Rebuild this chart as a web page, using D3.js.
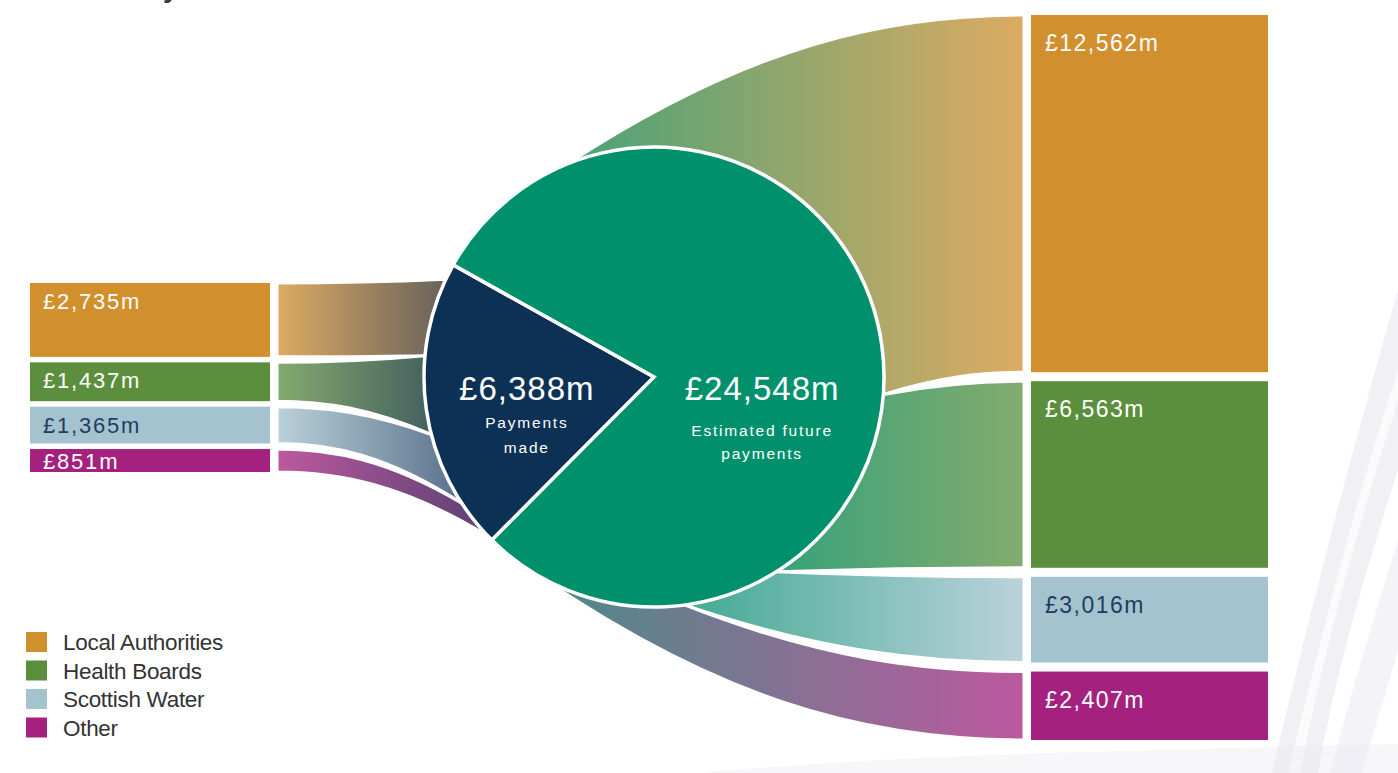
<!DOCTYPE html>
<html>
<head>
<meta charset="utf-8">
<script src="https://cdn.jsdelivr.net/npm/d3@7"></script>
<style>
  body { margin: 0; background: #fff; }
  svg { display: block; font-family: "Liberation Sans", Arial, sans-serif; }
</style>
</head>
<body>
<div id="chart"></div>
<script>
// data (£m)
const categories = ["Local Authorities", "Health Boards", "Scottish Water", "Other"];
const paymentsMade = [2735, 1437, 1365, 851];
const futurePayments = [12562, 6563, 3016, 2407];
const totals = [6388, 24548];
const totalLabels = [["Payments", "made"], ["Estimated future", "payments"]];

// styles
const catColours = ["#d18f2d", "#5b8f3d", "#a4c3cf", "#a5217f"];
const navy = "#0c3154", green = "#00916c", darkText = "#1f3d63";

const W = 1398, H = 773;
const cx = 654, cy = 377, r = 230;
const deg = Math.PI / 180;
const leftBarX = 30, leftBarW = 240, leftTop = 283, leftGap = 5.5;
const rightBarX = 1031, rightBarW = 237, rightTop = 15, rightGap = 9;
const flowGap = 7;

const svg = d3.select("#chart").append("svg").attr("width", W).attr("height", H);
const defs = svg.append("defs");
const fmt = d3.format(",");
const money = v => "£" + fmt(v) + "m";

// faint background swooshes
const deco = svg.append("g").attr("fill", "#e9e8f0");
deco.append("path").attr("d", "M1272,773 C1310,610 1352,450 1398,290 L1398,470 C1366,570 1336,670 1318,773 Z").attr("opacity", 0.65);
deco.append("path").attr("d", "M1330,773 C1352,690 1376,610 1398,540 L1398,650 C1386,695 1372,735 1362,773 Z").attr("opacity", 0.5);
deco.append("path").attr("d", "M1288,773 C1330,600 1362,480 1398,370 L1398,400 C1360,520 1326,640 1300,773 Z").attr("fill", "#fff").attr("opacity", 0.7);
deco.append("path").attr("d", "M700,773 C900,754 1150,750 1398,744 L1398,773 Z").attr("opacity", 0.35);

// cut-off heading glyph at the top
svg.append("text").attr("x", 163).attr("y", -3).attr("font-size", 28).attr("font-weight", "bold")
    .attr("fill", "#3a3a3a").text("y");

// scales for the stacked bars
const yLeft = d3.scaleLinear().domain([0, d3.sum(paymentsMade)]).range([0, 172.5]);
const yRight = d3.scaleLinear().domain([0, d3.sum(futurePayments)]).range([0, 698]);

function stack(vals, scale, top, gap) {
    let y = top, cum = 0;
    return vals.map((v, i) => {
        const h = scale(v);
        const o = {i, v, y0: y, y1: y + h, c0: cum, c1: cum + v};
        y += h + gap;
        cum += v;
        return o;
    });
}
const leftRows = stack(paymentsMade, yLeft, leftTop, leftGap);
const rightRows = stack(futurePayments, yRight, rightTop, rightGap);

// pie
const navyMid = 262;
const pie = d3.pie().sort(null)
    .startAngle(navyMid * deg - Math.PI * totals[0] / d3.sum(totals));
pie.endAngle(pie.startAngle()() + 2 * Math.PI);
const arcs = pie(totals);
const arc = d3.arc().innerRadius(0).outerRadius(r);
const navyStart = arcs[0].startAngle / deg - 90;   // screen degrees
const navyEnd = arcs[0].endAngle / deg - 90;

const pt = a => [cx + r * Math.cos(a * deg), cy + r * Math.sin(a * deg)];

// angles where flows meet the circle
const angL = d3.scaleLinear().domain([0, d3.sum(paymentsMade)]).range([223, 135]);
const angR = d3.scaleLinear().domain([0, d3.sum(futurePayments)]).range([262, 462]);

function rightEdge(p0, p3) {
    const dx = p3[0] - p0[0], dy = p3[1] - p0[1];
    return [p0, [p0[0] + 0.4 * dx, p0[1] + 0.8 * dy], [p3[0] - 0.3 * dx, p3[1]], p3];
}
function leftEdge(q0, q3) {
    const dx = q3[0] - q0[0], dy = q3[1] - q0[1];
    return [q0, [q0[0] + 0.3 * dx, q0[1]], [q3[0] - 0.4 * dx, q3[1] - 0.8 * dy], q3];
}
function bandPath(top, bot) {
    const p = d3.path();
    p.moveTo(...top[0]);
    p.bezierCurveTo(...top[1], ...top[2], ...top[3]);
    p.lineTo(...bot[3]);
    p.bezierCurveTo(...bot[2], ...bot[1], ...bot[0]);
    p.closePath();
    return p.toString();
}
function gradient(id, x1, x2, c1, c2) {
    const g = defs.append("linearGradient").attr("id", id)
        .attr("gradientUnits", "userSpaceOnUse")
        .attr("x1", x1).attr("x2", x2).attr("y1", 0).attr("y2", 0);
    g.append("stop").attr("offset", 0).attr("stop-color", c1);
    g.append("stop").attr("offset", 1).attr("stop-color", c2);
}

// right flows
const flowXR = rightBarX - flowGap;
const flowsR = svg.append("g");
rightRows.forEach((d, i) => {
    const aTop = i === 0 ? 248 : angR(d.c0);
    const aBot = i === rightRows.length - 1 ? navyStart + 360 - 4 : angR(d.c1);
    const top = rightEdge(pt(aTop), [flowXR, d.y0]);
    const bot = rightEdge(pt(aBot), [flowXR, d.y1]);
    const c = catColours[i];
    const left = d3.interpolateRgb(d3.interpolateRgb(green, c)(0.2), "#fff")(0.15);
    const right = d3.interpolateRgb(c, "#fff")(0.25);
    gradient("gr" + i, Math.min(top[0][0], bot[0][0]), flowXR, left, right);
    flowsR.append("path").attr("d", bandPath(top, bot))
        .attr("fill", `url(#gr${i})`).attr("stroke", "#fff").attr("stroke-width", 3);
});

// left flows
const flowXL = leftBarX + leftBarW + flowGap;
const flowsL = svg.append("g");
leftRows.forEach((d, i) => {
    const aTop = i === 0 ? navyEnd - 4 : angL(d.c0);
    const aBot = i === leftRows.length - 1 ? navyStart + 1.5 : angL(d.c1);
    const top = leftEdge([flowXL, d.y0], pt(aTop));
    const bot = leftEdge([flowXL, d.y1], pt(aBot));
    const c = catColours[i];
    const left = d3.interpolateRgb(c, "#fff")(0.25);
    const right = d3.interpolateRgb(c, "#3a4d6e")(0.7);
    gradient("gl" + i, flowXL, Math.max(top[3][0], bot[3][0]), left, right);
    flowsL.append("path").attr("d", bandPath(top, bot))
        .attr("fill", `url(#gl${i})`).attr("stroke", "#fff").attr("stroke-width", 3);
});

// pie on top of the flows
const pieG = svg.append("g").attr("transform", `translate(${cx},${cy})`);
pieG.selectAll("path").data(arcs).join("path")
    .attr("d", arc)
    .attr("fill", (d, i) => i === 0 ? navy : green)
    .attr("stroke", "#fff").attr("stroke-width", 3.5);

// pie labels
const pieText = [
    {x: cx - 0.553 * r, sub: [51, 76]},
    {x: cx + 0.47 * r, sub: [59, 82]}
];
totals.forEach((v, i) => {
    const g = svg.append("g").attr("fill", "#fff").attr("text-anchor", "middle");
    g.append("text").attr("x", pieText[i].x).attr("y", cy + 23)
        .attr("font-size", 33).attr("letter-spacing", 1).text(money(v));
    totalLabels[i].forEach((t, j) => {
        g.append("text").attr("x", pieText[i].x).attr("y", cy + pieText[i].sub[j])
            .attr("font-size", 15.5).attr("letter-spacing", 1.8).text(t);
    });
});

// bars
const labelFill = c => d3.hsl(c).l > 0.65 ? darkText : "#fff";

const leftG = svg.append("g");
leftG.selectAll("rect").data(leftRows).join("rect")
    .attr("x", leftBarX).attr("y", d => d.y0)
    .attr("width", leftBarW).attr("height", d => d.y1 - d.y0)
    .attr("fill", d => catColours[d.i]);
leftG.selectAll("text").data(leftRows).join("text")
    .attr("x", leftBarX + 13).attr("y", d => Math.min(d.y0 + 26, d.y1 - 3))
    .attr("font-size", 22).attr("letter-spacing", 1.8)
    .attr("fill", d => labelFill(catColours[d.i]))
    .text(d => money(d.v));

const rightG = svg.append("g");
rightG.selectAll("rect").data(rightRows).join("rect")
    .attr("x", rightBarX).attr("y", d => d.y0)
    .attr("width", rightBarW).attr("height", d => d.y1 - d.y0)
    .attr("fill", d => catColours[d.i]);
rightG.selectAll("text").data(rightRows).join("text")
    .attr("x", rightBarX + 14).attr("y", d => d.y0 + 36)
    .attr("font-size", 23).attr("letter-spacing", 1.5)
    .attr("fill", d => labelFill(catColours[d.i]))
    .text(d => money(d.v));

// legend
const legend = svg.append("g").attr("transform", "translate(26,632)");
const lg = legend.selectAll("g").data(categories).join("g")
    .attr("transform", (d, i) => `translate(0,${i * 28.5})`);
lg.append("rect").attr("width", 21).attr("height", 20).attr("fill", (d, i) => catColours[i]);
lg.append("text").attr("x", 37).attr("y", 18).attr("font-size", 22.5)
    .attr("letter-spacing", -0.3).attr("fill", "#333").text(d => d);
</script>
</body>
</html>
